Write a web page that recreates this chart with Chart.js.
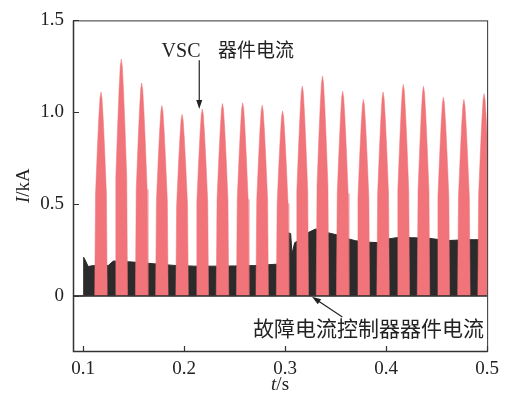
<!DOCTYPE html>
<html>
<head>
<meta charset="utf-8">
<script src="https://cdn.jsdelivr.net/npm/chart.js@4/dist/chart.umd.min.js"></script>
<style>
  html, body { margin:0; padding:0; background:#fff; }
  #wrap { width:506px; height:399px; }
</style>
</head>
<body>
<div id="wrap"><canvas id="c" width="506" height="399"></canvas></div>
<script>
// VSC device current: peak time (s) and peak value (kA) of each pulse
const peakTimes  = [0.1177, 0.1378, 0.158, 0.178, 0.198, 0.218, 0.238, 0.258, 0.2773, 0.2975,
                    0.317, 0.337, 0.357, 0.3775, 0.397, 0.417, 0.437, 0.4567, 0.477, 0.497];
const peakValues = [1.11, 1.289, 1.159, 1.036, 0.988, 1.018, 1.047, 1.051, 1.038, 1.007,
                    1.143, 1.197, 1.114, 1.07, 1.11, 1.151, 1.141, 1.081, 1.07, 1.101];
const pulseOffsets = [-0.0062, -0.0054, -0.0036, -0.0022, -0.001, 0, 0.001, 0.0022, 0.0036, 0.0054, 0.0062];
const pulseShape   = [0, 0.5, 0.72, 0.87, 0.97, 1, 0.97, 0.87, 0.72, 0.5, 0];

// fault current controller device current: envelope of the dense oscillation
const envTimes  = [0.09, 0.1005, 0.1006, 0.1025, 0.105, 0.11, 0.125, 0.13, 0.15, 0.17, 0.19, 0.21,
                   0.23, 0.25, 0.27, 0.29, 0.302, 0.3028, 0.3055, 0.3068, 0.3095, 0.316, 0.323,
                   0.33, 0.343, 0.353, 0.363, 0.37, 0.383, 0.393, 0.402, 0.412, 0.425, 0.442,
                   0.46, 0.48, 0.5];
const envValues = [0, 0, 0.21, 0.19, 0.16, 0.165, 0.166, 0.19, 0.184, 0.175, 0.166, 0.162,
                   0.162, 0.163, 0.165, 0.172, 0.175, 0.343, 0.34, 0.23, 0.29, 0.31, 0.345,
                   0.364, 0.343, 0.33, 0.31, 0.30, 0.292, 0.29, 0.31, 0.318, 0.317, 0.314,
                   0.301, 0.306, 0.306];

const xTicks = [0.1, 0.2, 0.3, 0.4, 0.5];
const yTicks = [0, 0.5, 1.0, 1.5];
const xRange = [0.09, 0.5];
const yRange = [-0.3, 1.5];

const red = '#f07479';
const dark = '#2b2b2b';
const serif = '"Liberation Serif", "Times New Roman", serif';
const cjk = '"Liberation Serif", "Noto Sans CJK SC", serif';

// build the pulse train from the peaks
const vscPoints = [{ x: xRange[0], y: 0 }];
peakTimes.forEach((t, i) => {
  pulseOffsets.forEach((dt, k) => vscPoints.push({ x: t + dt, y: peakValues[i] * pulseShape[k] }));
});
vscPoints.push({ x: xRange[1], y: 0 });

const fclPoints = envTimes.map((t, i) => ({ x: t, y: envValues[i] }));
const basePoints = [{ x: xRange[0], y: 0 }, { x: xRange[1], y: 0 }];

const decor = {
  id: 'decor',
  afterDraw(chart){
    const { ctx, chartArea: a, scales: { x, y } } = chart;
    ctx.save();
    // frame
    ctx.strokeStyle = '#333';
    ctx.lineWidth = 1;
    ctx.strokeRect(a.left + 0.5, a.top + 0.5, a.right - a.left, a.bottom - a.top);
    ctx.lineWidth = 1.5;
    ctx.beginPath();
    ctx.moveTo(a.left + 0.5, a.top); ctx.lineTo(a.left + 0.5, a.bottom + 0.5);
    ctx.lineTo(a.right + 0.5, a.bottom + 0.5);
    ctx.stroke();
    // inward ticks
    ctx.lineWidth = 1.2;
    ctx.beginPath();
    yTicks.forEach(v => { const py = Math.round(y.getPixelForValue(v)) + 0.5; ctx.moveTo(a.left, py); ctx.lineTo(a.left + 6, py); });
    xTicks.forEach(v => { const px = Math.round(x.getPixelForValue(v)) + 0.5; ctx.moveTo(px, a.bottom); ctx.lineTo(px, a.bottom - 5); });
    ctx.stroke();

    // axis titles
    ctx.fillStyle = '#222';
    ctx.textBaseline = 'middle';
    const cx = (a.left + a.right) / 2;
    ctx.font = 'italic 19px ' + serif;
    const tw = ctx.measureText('t').width;
    ctx.font = '19px ' + serif;
    const sw = ctx.measureText('/s').width;
    ctx.textAlign = 'left';
    ctx.font = 'italic 19px ' + serif;
    ctx.fillText('t', cx - (tw + sw) / 2, 385);
    ctx.font = '19px ' + serif;
    ctx.fillText('/s', cx - (tw + sw) / 2 + tw, 385);

    ctx.save();
    ctx.translate(24, (a.top + a.bottom) / 2);
    ctx.rotate(-Math.PI / 2);
    ctx.font = 'italic 19px ' + serif;
    const iw = ctx.measureText('I').width;
    ctx.font = '19px ' + serif;
    const kw = ctx.measureText('/kA').width;
    ctx.font = 'italic 19px ' + serif;
    ctx.fillText('I', -(iw + kw) / 2, 0);
    ctx.font = '19px ' + serif;
    ctx.fillText('/kA', -(iw + kw) / 2 + iw, 0);
    ctx.restore();

    // annotations
    ctx.textAlign = 'left';
    ctx.font = '20px ' + serif;
    ctx.fillText('VSC', x.getPixelForValue(0.1777), y.getPixelForValue(1.328));
    ctx.font = '19px ' + cjk;
    ctx.fillText('器件电流', x.getPixelForValue(0.2335), y.getPixelForValue(1.328));
    ctx.textAlign = 'center';
    ctx.font = '21px ' + cjk;
    ctx.fillText('故障电流控制器器件电流', x.getPixelForValue(0.3825), y.getPixelForValue(-0.186));

    arrow(ctx, x.getPixelForValue(0.215), y.getPixelForValue(1.283), x.getPixelForValue(0.215), y.getPixelForValue(1.018));
    arrow(ctx, x.getPixelForValue(0.3567), y.getPixelForValue(-0.115), x.getPixelForValue(0.3266), y.getPixelForValue(-0.005));
    ctx.restore();
  }
};

function arrow(ctx, x1, y1, x2, y2){
  const ang = Math.atan2(y2 - y1, x2 - x1);
  const len = 9, half = 3;
  ctx.strokeStyle = '#222';
  ctx.fillStyle = '#222';
  ctx.lineWidth = 1.2;
  ctx.beginPath();
  ctx.moveTo(x1, y1);
  ctx.lineTo(x2 - Math.cos(ang) * len * 0.8, y2 - Math.sin(ang) * len * 0.8);
  ctx.stroke();
  ctx.beginPath();
  ctx.moveTo(x2, y2);
  ctx.lineTo(x2 - Math.cos(ang) * len - Math.sin(ang) * half, y2 - Math.sin(ang) * len + Math.cos(ang) * half);
  ctx.lineTo(x2 - Math.cos(ang) * len + Math.sin(ang) * half, y2 - Math.sin(ang) * len - Math.cos(ang) * half);
  ctx.closePath();
  ctx.fill();
}

new Chart(document.getElementById('c'), {
  type: 'line',
  data: {
    datasets: [
      { label: 'base', data: basePoints, borderColor: dark, borderWidth: 1.5, pointRadius: 0, fill: false, order: 0 },
      { label: 'VSC 器件电流', data: vscPoints, borderColor: red, borderWidth: 0.5, backgroundColor: red,
        pointRadius: 0, fill: 'origin', tension: 0, order: 1 },
      { label: '故障电流控制器器件电流', data: fclPoints, borderColor: dark, borderWidth: 1, backgroundColor: dark,
        pointRadius: 0, fill: 'origin', tension: 0, order: 2 }
    ]
  },
  options: {
    responsive: false,
    animation: false,
    layout: { padding: { top: 18, right: 17, left: 0, bottom: 0 } },
    plugins: { legend: { display: false }, tooltip: { enabled: false } },
    scales: {
      x: {
        type: 'linear', min: xRange[0], max: xRange[1],
        grid: { display: false, drawTicks: false },
        border: { display: false },
        afterBuildTicks: s => { s.ticks = xTicks.map(v => ({ value: v })); },
        afterFit: s => { s.height = 48; },
        ticks: { padding: 7, color: '#222', font: { family: serif, size: 19 }, maxRotation: 0,
                 callback: v => v.toFixed(1) }
      },
      y: {
        type: 'linear', min: yRange[0], max: yRange[1],
        grid: { display: false, drawTicks: false },
        border: { display: false },
        afterBuildTicks: s => { s.ticks = yTicks.map(v => ({ value: v })); },
        afterFit: s => { s.width = 73; },
        ticks: { padding: 9, color: '#222', font: { family: serif, size: 19 },
                 callback: v => v === 0 ? '0' : v.toFixed(1) }
      }
    }
  },
  plugins: [decor]
});
</script>
</body>
</html>
